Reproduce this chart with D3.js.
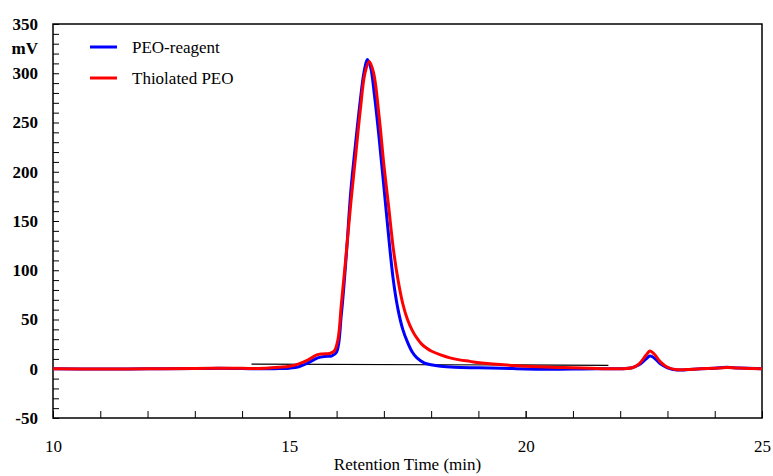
<!DOCTYPE html>
<meta charset="utf-8">
<script src="https://d3js.org/d3.v7.min.js"></script>
<style>
  body { margin: 0; background: #fff; }
  text { font-family: "Liberation Serif", "Times New Roman", serif; }
</style>
<svg id="chart" width="773" height="476"></svg>
<script>
// retention time (min) and detector signal (mV)
var timeBlue = [10, 11, 12, 13, 13.5, 14, 14.5, 14.8, 15.0, 15.2, 15.4, 15.6, 15.75, 15.9, 16.0,
  16.1, 16.2, 16.3, 16.4, 16.5, 16.58, 16.65, 16.72, 16.8, 16.9, 17.0, 17.1, 17.2, 17.3, 17.4,
  17.5, 17.6, 17.7, 17.85, 18.0, 18.2, 18.5, 19.0, 19.5, 20.0, 20.5, 21.0, 21.5, 22.0, 22.25,
  22.4, 22.55, 22.63, 22.72, 22.85, 23.0, 23.2, 23.4, 23.7, 24.0, 24.25, 24.5, 25];
var peoReagent = [0, -0.3, 0, 0.2, 0.4, 0.2, 0, 0.2, 0.6, 2, 6, 11, 12.5, 13, 17,
  55, 112, 180, 228, 272, 301, 314, 306, 278, 234, 185, 135, 90, 60, 40,
  27, 17, 11, 6, 4, 2.5, 1.5, 1, 0.5, -0.3, -0.5, -0.3, 0, 0, 1,
  4, 10, 13, 11, 5, 1, -1.3, -1, 0, 0.5, 1.4, 0.8, 0];

var timeRed = [10, 11, 12, 13, 13.5, 14, 14.5, 14.8, 15.0, 15.2, 15.4, 15.58, 15.7, 15.85, 15.95,
  16.03, 16.1, 16.2, 16.3, 16.4, 16.5, 16.6, 16.69, 16.78, 16.9, 17.0, 17.1, 17.2, 17.3, 17.4,
  17.5, 17.6, 17.7, 17.8, 17.9, 18.0, 18.2, 18.4, 18.6, 18.82, 19.03, 19.3, 19.6, 20.0, 20.3,
  20.8, 21.36, 22.0, 22.25, 22.4, 22.55, 22.63, 22.72, 22.85, 23.0, 23.2, 23.4, 23.7, 24.0,
  24.25, 24.5, 25];
var thiolatedPeo = [0, -0.3, 0, 0.3, 0.5, 0.4, 0.5, 1.5, 2.5, 5, 9, 14, 15, 15.5, 18,
  30, 65, 115, 168, 215, 262, 300, 312, 301, 256, 207, 165, 122, 90, 66,
  50, 39, 31, 25, 21, 18, 14, 11, 9, 7.5, 6, 4.8, 3.7, 2.6, 2,
  1.2, 0.4, 0, 1, 5, 14, 18, 15, 7, 1.5, -1, -0.8, 0, 0.4,
  1.2, 0.7, 0];

// integration baseline drawn under the main peak
var baseTime = [14.2, 21.75];
var baseValue = [4.7, 3.5];

var seriesNames = ["PEO-reagent", "Thiolated PEO"];
var seriesColors = ["#0000ff", "#ff0000"];

var xMajor = [10, 15, 20, 25];
var yMajor = [-50, 0, 50, 100, 150, 200, 250, 300, 350];

var svg = d3.select("#chart");
var margin = {top: 24, right: 11, bottom: 58, left: 53},
    width = 773 - margin.left - margin.right,
    height = 476 - margin.top - margin.bottom;

var g = svg.append("g")
    .attr("transform", "translate(" + margin.left + "," + margin.top + ")");

var x = d3.scaleLinear().domain([10, 25]).range([0, width]);
var y = d3.scaleLinear().domain([-50, 350]).range([height, 0]);

// minor x ticks every minute
g.append("g")
    .attr("transform", "translate(0," + height + ")")
    .call(d3.axisBottom(x).tickValues(d3.range(10, 26, 1)).tickSize(-7).tickFormat(""))
    .call(function (a) { a.select(".domain").remove(); });

g.append("g")
    .attr("transform", "translate(0," + height + ")")
    .call(d3.axisBottom(x).tickValues(xMajor).tickSize(-7).tickPadding(22).tickFormat(d3.format("d")))
    .call(function (a) {
      a.select(".domain").remove();
      a.selectAll("text").attr("font-size", 17).attr("fill", "#000")
        .attr("font-family", "Liberation Serif");
    });

// y ticks every 10, labels on the 50s
g.append("g")
    .call(d3.axisLeft(y).tickValues(d3.range(-50, 351, 10)).tickSize(-6).tickPadding(15)
      .tickFormat(function (d) { return yMajor.indexOf(d) >= 0 ? d : ""; }))
    .call(function (a) {
      a.select(".domain").remove();
      a.selectAll("text").attr("font-size", 17).attr("font-weight", "bold").attr("fill", "#000")
        .attr("font-family", "Liberation Serif");
    });

g.append("text")
    .attr("x", -15)
    .attr("y", y(325))
    .attr("dy", "0.32em")
    .attr("text-anchor", "end")
    .attr("font-size", 17)
    .attr("font-weight", "bold")
    .text("mV");

// frame
g.append("rect")
    .attr("width", width)
    .attr("height", height)
    .attr("fill", "none")
    .attr("stroke", "#000")
    .attr("stroke-width", 1.5);

g.append("text")
    .attr("x", x(17.5))
    .attr("y", height + 52)
    .attr("text-anchor", "middle")
    .attr("font-size", 17)
    .text("Retention Time (min)");

// baseline
g.append("line")
    .attr("x1", x(baseTime[0])).attr("y1", y(baseValue[0]))
    .attr("x2", x(baseTime[1])).attr("y2", y(baseValue[1]))
    .attr("stroke", "#000")
    .attr("stroke-width", 1.2);

var line = d3.line()
    .x(function (d) { return x(d[0]); })
    .y(function (d) { return y(d[1]); })
    .curve(d3.curveCatmullRom.alpha(0.5));

var series = [d3.zip(timeBlue, peoReagent), d3.zip(timeRed, thiolatedPeo)];

series.forEach(function (s, i) {
  g.append("path")
      .datum(s)
      .attr("fill", "none")
      .attr("stroke", seriesColors[i])
      .attr("stroke-width", 3)
      .attr("stroke-linejoin", "round")
      .attr("d", line);
});

// legend
var legend = svg.append("g");
seriesNames.forEach(function (name, i) {
  var ly = 47 + i * 31;
  legend.append("line")
      .attr("x1", 90).attr("x2", 117)
      .attr("y1", ly).attr("y2", ly)
      .attr("stroke", seriesColors[i])
      .attr("stroke-width", 3);
  legend.append("text")
      .attr("x", 132)
      .attr("y", ly)
      .attr("dy", "0.35em")
      .attr("font-size", 17)
      .text(name);
});
</script>
